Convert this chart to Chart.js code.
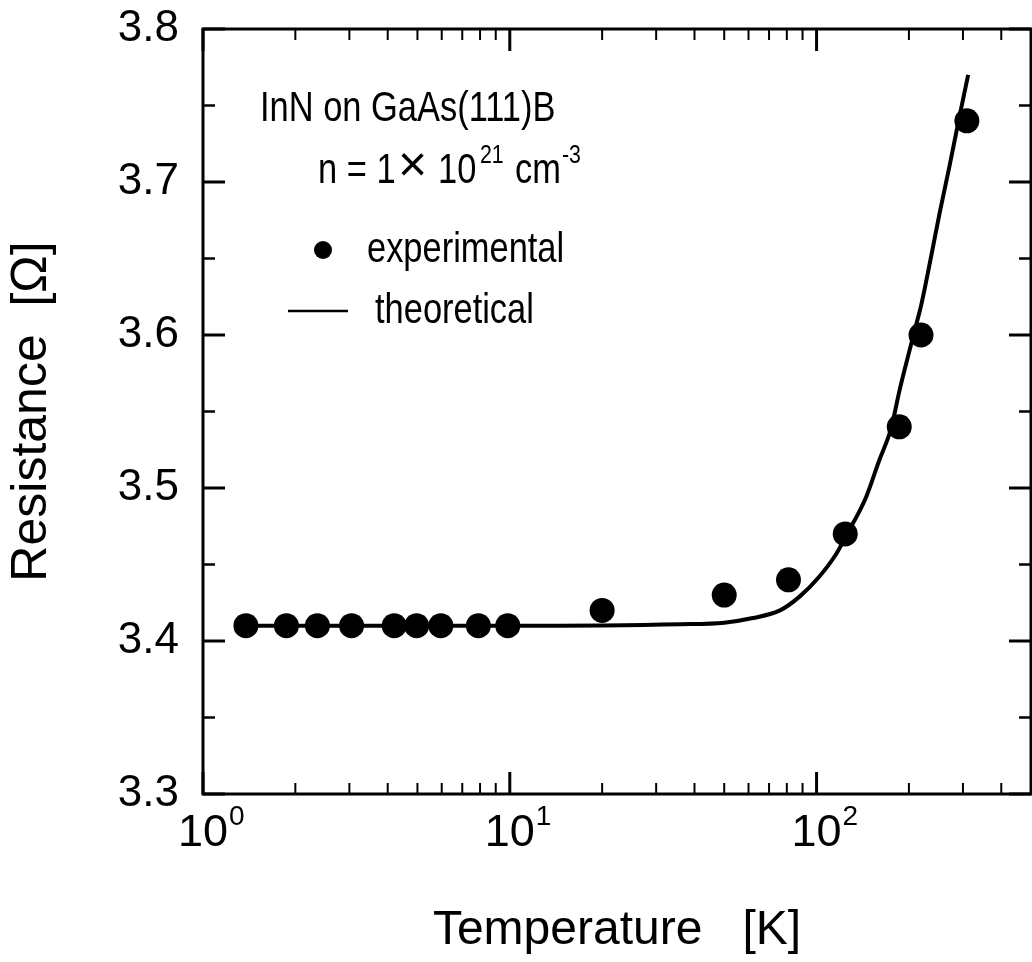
<!DOCTYPE html>
<html>
<head>
<meta charset="utf-8">
<title>InN on GaAs(111)B - resistance vs temperature</title>
<script src="https://cdn.jsdelivr.net/npm/chart.js@4.4.1/dist/chart.umd.min.js"></script>
<style>
  html, body { margin: 0; padding: 0; background: #fff; }
  #wrap { width: 1032px; height: 962px; }
</style>
</head>
<body>
<div id="wrap"><canvas id="rtChart"></canvas></div>
<script>
// measured resistance (dots)
const expTemp = [1.38, 1.87, 2.36, 3.05, 4.2, 4.97, 5.96, 7.9, 9.85, 20, 50, 81, 124, 186, 219, 309];
const expRes  = [3.41, 3.41, 3.41, 3.41, 3.41, 3.41, 3.41, 3.41, 3.41, 3.42, 3.43, 3.44, 3.47, 3.54, 3.60, 3.74];

// calculated curve (solid line)
const fitTemp = [1.38, 10, 36, 50, 62, 76, 88, 102, 116, 125, 145, 160, 175, 186, 201, 212, 219, 235, 252, 271, 291, 312];
const fitRes  = [3.41, 3.41, 3.411, 3.412, 3.415, 3.420, 3.429, 3.442, 3.457, 3.469, 3.494, 3.518, 3.539, 3.563, 3.590, 3.608, 3.619, 3.649, 3.680, 3.710, 3.741, 3.770];

// axis ticks
const xMajor = [1, 10, 100];
const xExpLabels = ['0', '1', '2'];
const xMinor = [2, 3, 4, 5, 6, 7, 8, 9, 20, 30, 40, 50, 60, 70, 80, 90, 200, 300, 400];
const yMajor = [3.3, 3.4, 3.5, 3.6, 3.7, 3.8];
const yMinor = [3.35, 3.45, 3.55, 3.65, 3.75];

const FONT = '"Liberation Sans", Arial, Helvetica, sans-serif';
Chart.defaults.font.family = FONT;
Chart.defaults.color = '#000';

// condensed text like the original figure (Arial Narrow look)
function narrowText(ctx, text, x, y, size, align) {
  ctx.save();
  ctx.font = size + 'px ' + FONT;
  ctx.textAlign = align || 'left';
  ctx.textBaseline = 'alphabetic';
  ctx.translate(x, y);
  ctx.scale(0.82, 1);
  ctx.fillText(text, 0, 0);
  ctx.restore();
}

// keep the plot box fixed: no extra room for overhanging tick labels
function noPadding(scale) {
  scale.paddingTop = 0;
  scale.paddingBottom = 0;
  scale.paddingLeft = 0;
  scale.paddingRight = 0;
}

// box frame, inward ticks on all four sides, 10^n labels, and the key
const framePlugin = {
  id: 'frame',
  afterDraw(chart) {
    const { ctx, chartArea: a, scales: { x, y } } = chart;
    ctx.save();
    ctx.strokeStyle = '#000';
    ctx.fillStyle = '#000';

    ctx.lineWidth = 3;
    ctx.strokeRect(a.left, a.top, a.right - a.left, a.bottom - a.top);

    function tick(x1, y1, x2, y2, w) {
      ctx.lineWidth = w;
      ctx.beginPath();
      ctx.moveTo(x1, y1);
      ctx.lineTo(x2, y2);
      ctx.stroke();
    }

    xMajor.forEach(v => {
      const px = x.getPixelForValue(v);
      tick(px, a.bottom, px, a.bottom - 22, 3);
      tick(px, a.top, px, a.top + 22, 3);
    });
    xMinor.forEach(v => {
      const px = x.getPixelForValue(v);
      tick(px, a.bottom, px, a.bottom - 11, 2);
      tick(px, a.top, px, a.top + 11, 2);
    });
    yMajor.forEach(v => {
      const py = y.getPixelForValue(v);
      tick(a.left, py, a.left + 22, py, 3);
      tick(a.right, py, a.right - 22, py, 3);
    });
    yMinor.forEach(v => {
      const py = y.getPixelForValue(v);
      tick(a.left, py, a.left + 12, py, 2.5);
      tick(a.right, py, a.right - 12, py, 2.5);
    });

    // x tick labels: 10 with a raised exponent
    xMajor.forEach((v, i) => {
      const px = x.getPixelForValue(v);
      ctx.font = '45px ' + FONT;
      ctx.textAlign = 'center';
      ctx.textBaseline = 'alphabetic';
      const w = ctx.measureText('10').width;
      ctx.fillText('10', px, a.bottom + 52);
      ctx.font = '28px ' + FONT;
      ctx.textAlign = 'left';
      ctx.fillText(xExpLabels[i], px + w / 2 + 1, a.bottom + 31);
    });

    // sample description
    const L = a.left;
    const T = a.top;
    narrowText(ctx, 'InN on GaAs(111)B', L + 57, T + 92, 42);
    narrowText(ctx, 'n = 1', L + 115, T + 154, 42);
    ctx.font = '50px ' + FONT;
    ctx.textAlign = 'left';
    ctx.fillText('\u00D7', L + 195, T + 152);
    narrowText(ctx, '10', L + 235, T + 154, 42);
    narrowText(ctx, '21', L + 277, T + 134, 26);
    narrowText(ctx, 'cm', L + 312, T + 154, 42);
    narrowText(ctx, '-3', L + 359, T + 134, 26);

    // key
    ctx.beginPath();
    ctx.arc(L + 120, T + 221, 9, 0, Math.PI * 2);
    ctx.fill();
    narrowText(ctx, 'experimental', L + 164, T + 233, 42);
    tick(L + 85, T + 282, L + 145, T + 282, 2.5);
    narrowText(ctx, 'theoretical', L + 172, T + 294, 42);

    ctx.restore();
  }
};

new Chart(document.getElementById('rtChart'), {
  type: 'scatter',
  data: {
    datasets: [
      {
        label: 'experimental',
        data: expTemp.map((t, i) => ({ x: t, y: expRes[i] })),
        pointRadius: 12.5,
        pointBackgroundColor: '#000',
        pointBorderWidth: 0,
        showLine: false,
        order: 0
      },
      {
        label: 'theoretical',
        data: fitTemp.map((t, i) => ({ x: t, y: fitRes[i] })),
        showLine: true,
        pointRadius: 0,
        borderColor: '#000',
        borderWidth: 4,
        cubicInterpolationMode: 'monotone',
        order: 1
      }
    ]
  },
  options: {
    responsive: true,
    maintainAspectRatio: false,
    animation: false,
    devicePixelRatio: 1,
    layout: {
      autoPadding: false,
      padding: { top: 29, right: 1, left: 0, bottom: 0 }
    },
    plugins: {
      legend: { display: false },
      tooltip: { enabled: false }
    },
    scales: {
      x: {
        type: 'logarithmic',
        min: 1,
        max: 500,
        grid: { display: false },
        border: { display: false },
        ticks: { display: false },
        title: {
          display: true,
          text: 'Temperature   [K]',
          color: '#000',
          font: { size: 48 },
          padding: { top: 0, bottom: 2 }
        },
        afterFit(scale) {
          scale.height = 168;
          noPadding(scale);
        }
      },
      y: {
        type: 'linear',
        min: 3.3,
        max: 3.8,
        grid: { display: false },
        border: { display: false },
        ticks: {
          stepSize: 0.1,
          color: '#000',
          padding: 16,
          font: { size: 44 },
          callback: v => v.toFixed(1)
        },
        title: {
          display: true,
          text: 'Resistance  [\u03A9]',
          color: '#000',
          font: { size: 50 },
          padding: { top: 2, bottom: 0 }
        },
        afterFit(scale) {
          scale.width = 203;
          noPadding(scale);
        }
      }
    }
  },
  plugins: [framePlugin]
});
</script>
</body>
</html>
